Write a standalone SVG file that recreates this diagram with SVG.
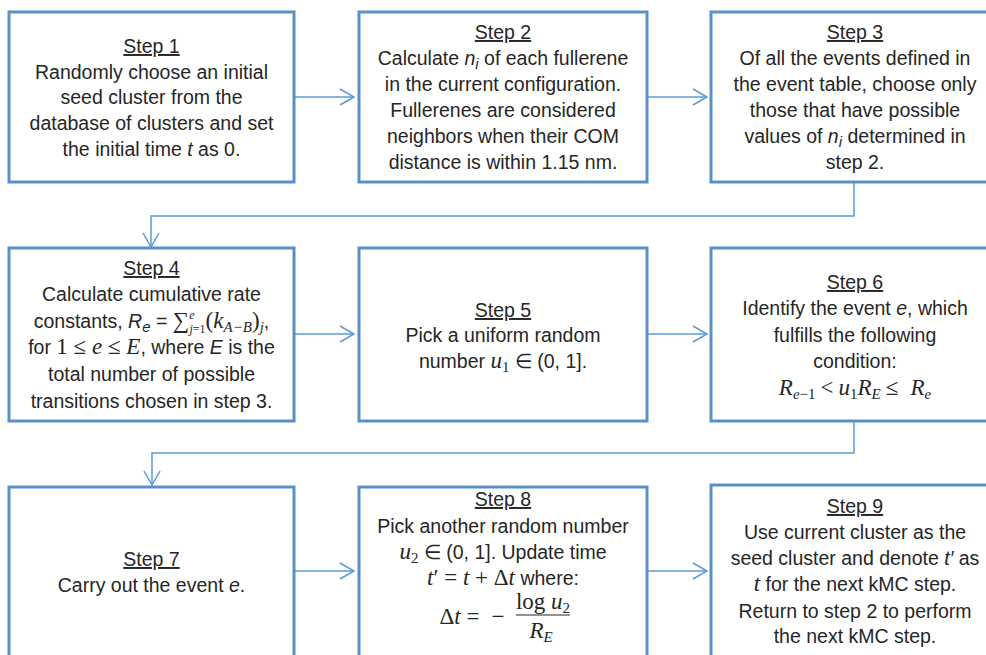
<svg xmlns="http://www.w3.org/2000/svg" width="986" height="655" viewBox="0 0 986 655">
<defs>
<style>
.box{fill:#fff;stroke:#5a8fc8;stroke-width:3}
.con{fill:none;stroke:#5b9bd5;stroke-width:1.5}
text{font-family:"Liberation Sans",Arial,sans-serif;font-size:19.5px;fill:#262626;text-anchor:middle}
.h{text-decoration:underline}
.i{font-style:italic}
.m{font-family:"Liberation Serif","Times New Roman",serif;font-style:italic;font-size:23px}
.mr{font-family:"Liberation Serif","Times New Roman",serif;font-size:23px}
.s{font-size:15px}
.t{font-size:12px}
</style>
<marker id="arr" markerUnits="userSpaceOnUse" markerWidth="18" markerHeight="20" refX="15" refY="9" orient="auto" viewBox="0 0 18 20">
<path d="M1,1 L15,9 L1,17" fill="none" stroke="#5b9bd5" stroke-width="1.5"/>
</marker>
</defs>
<rect width="986" height="655" fill="#fff"/>
<g id="connectors">
<line class="con" x1="295" y1="97" x2="354" y2="97" marker-end="url(#arr)"/>
<line class="con" x1="648" y1="97" x2="707" y2="97" marker-end="url(#arr)"/>
<path class="con" d="M854,183 V216 H151 V247" marker-end="url(#arr)"/>
<line class="con" x1="295" y1="334" x2="354" y2="334" marker-end="url(#arr)"/>
<line class="con" x1="648" y1="334" x2="707" y2="334" marker-end="url(#arr)"/>
<path class="con" d="M854,421 V453 H152 V485" marker-end="url(#arr)"/>
<line class="con" x1="295" y1="571" x2="354" y2="571" marker-end="url(#arr)"/>
<line class="con" x1="648" y1="571" x2="707" y2="571" marker-end="url(#arr)"/>
</g>
<g id="step1">
<rect class="box" x="9" y="12" width="285" height="170"/>
<text x="151.5" y="53" class="h">Step 1</text>
<text x="151.5" y="79">Randomly choose an initial</text>
<text x="151.5" y="104">seed cluster from the</text>
<text x="151.5" y="130">database of clusters and set</text>
<text x="151.5" y="156">the initial time <tspan class="i">t</tspan> as 0.</text>
</g>
<g id="step2">
<rect class="box" x="359" y="12" width="288" height="170"/>
<text x="503" y="39" class="h">Step 2</text>
<text x="503" y="65">Calculate <tspan class="i">n</tspan><tspan class="i s" dy="4">i</tspan><tspan dy="-4"> of each fullerene</tspan></text>
<text x="503" y="91">in the current configuration.</text>
<text x="503" y="117">Fullerenes are considered</text>
<text x="503" y="143">neighbors when their COM</text>
<text x="503" y="169">distance is within 1.15 nm.</text>
</g>
<g id="step3">
<rect class="box" x="711" y="12" width="288" height="170"/>
<text x="855" y="39" class="h">Step 3</text>
<text x="855" y="65">Of all the events defined in</text>
<text x="855" y="91">the event table, choose only</text>
<text x="855" y="117">those that have possible</text>
<text x="855" y="143">values of <tspan class="i">n</tspan><tspan class="i s" dy="4">i</tspan><tspan dy="-4"> determined in</tspan></text>
<text x="855" y="169">step 2.</text>
</g>
<g id="step4">
<rect class="box" x="9" y="248" width="285" height="173"/>
<text x="151.5" y="275" class="h">Step 4</text>
<text x="151.5" y="301">Calculate cumulative rate</text>
<text x="151.5" y="328">constants, <tspan class="i">R</tspan><tspan class="i s" dy="4">e</tspan><tspan dy="-4"> = </tspan><tspan class="mr">∑</tspan><tspan class="m t" dy="-9">e</tspan><tspan class="m t" dx="-5" dy="14">j</tspan><tspan class="mr t">=1</tspan><tspan class="mr" dy="-5">(</tspan><tspan class="m">k</tspan><tspan class="m s" dy="4">A−B</tspan><tspan class="mr" dy="-4">)</tspan><tspan class="m s" dy="4">j</tspan><tspan dy="-4">,</tspan></text>
<text x="151.5" y="354">for <tspan class="mr">1 ≤ </tspan><tspan class="m">e</tspan><tspan class="mr"> ≤ </tspan><tspan class="m">E</tspan>, where <tspan class="i">E</tspan> is the</text>
<text x="151.5" y="381">total number of possible</text>
<text x="151.5" y="408">transitions chosen in step 3.</text>
</g>
<g id="step5">
<rect class="box" x="359" y="248" width="288" height="173"/>
<text x="503" y="317" class="h">Step 5</text>
<text x="503" y="342">Pick a uniform random</text>
<text x="503" y="368">number <tspan class="m">u</tspan><tspan class="mr s" dy="4">1</tspan><tspan dy="-4"> ∈ (0, 1].</tspan></text>
</g>
<g id="step6">
<rect class="box" x="711" y="248" width="288" height="173"/>
<text x="855" y="289" class="h">Step 6</text>
<text x="855" y="315">Identify the event <tspan class="i">e</tspan>, which</text>
<text x="855" y="342">fulfills the following</text>
<text x="855" y="368">condition:</text>
<text x="855" y="395"><tspan class="m">R</tspan><tspan class="m s" dy="4">e</tspan><tspan class="mr s">−1</tspan><tspan class="mr" dx="5" dy="-4">&lt;</tspan><tspan class="m" dx="5">u</tspan><tspan class="mr s" dy="4">1</tspan><tspan class="m" dy="-4">R</tspan><tspan class="m s" dy="4">E</tspan><tspan class="mr" dx="5" dy="-4">≤</tspan><tspan class="m" dx="12">R</tspan><tspan class="m s" dy="4">e</tspan></text>
</g>
<g id="step7">
<rect class="box" x="9" y="487" width="285" height="190"/>
<text x="151.5" y="566" class="h">Step 7</text>
<text x="151.5" y="592">Carry out the event <tspan class="i">e</tspan>.</text>
</g>
<g id="step8">
<rect class="box" x="359" y="487" width="288" height="190"/>
<text x="503" y="506" class="h">Step 8</text>
<text x="503" y="533">Pick another random number</text>
<text x="503" y="559"><tspan class="m">u</tspan><tspan class="mr s" dy="4">2</tspan><tspan dy="-4"> ∈ (0, 1]. Update time</tspan></text>
<text x="503" y="585"><tspan class="m">t</tspan><tspan class="mr">′ = </tspan><tspan class="m">t</tspan><tspan class="mr"> +  Δ</tspan><tspan class="m">t</tspan> where:</text>
<text x="472" y="624"><tspan class="mr">Δ</tspan><tspan class="m">t</tspan><tspan class="mr" dx="6">=</tspan><tspan class="mr" dx="12">−</tspan></text>
<text x="543" y="609"><tspan class="mr">log </tspan><tspan class="m">u</tspan><tspan class="mr s" dy="4">2</tspan></text>
<line x1="516" y1="615" x2="570" y2="615" stroke="#262626" stroke-width="1"/>
<text x="541" y="638"><tspan class="m">R</tspan><tspan class="m s" dy="4">E</tspan></text>
</g>
<g id="step9">
<rect class="box" x="711" y="485" width="288" height="190"/>
<text x="855" y="513" class="h">Step 9</text>
<text x="855" y="539">Use current cluster as the</text>
<text x="855" y="565">seed cluster and denote <tspan class="i">t′</tspan> as</text>
<text x="855" y="591"><tspan class="m">t</tspan> for the next kMC step.</text>
<text x="855" y="618">Return to step 2 to perform</text>
<text x="855" y="643">the next kMC step.</text>
</g>
</svg>
